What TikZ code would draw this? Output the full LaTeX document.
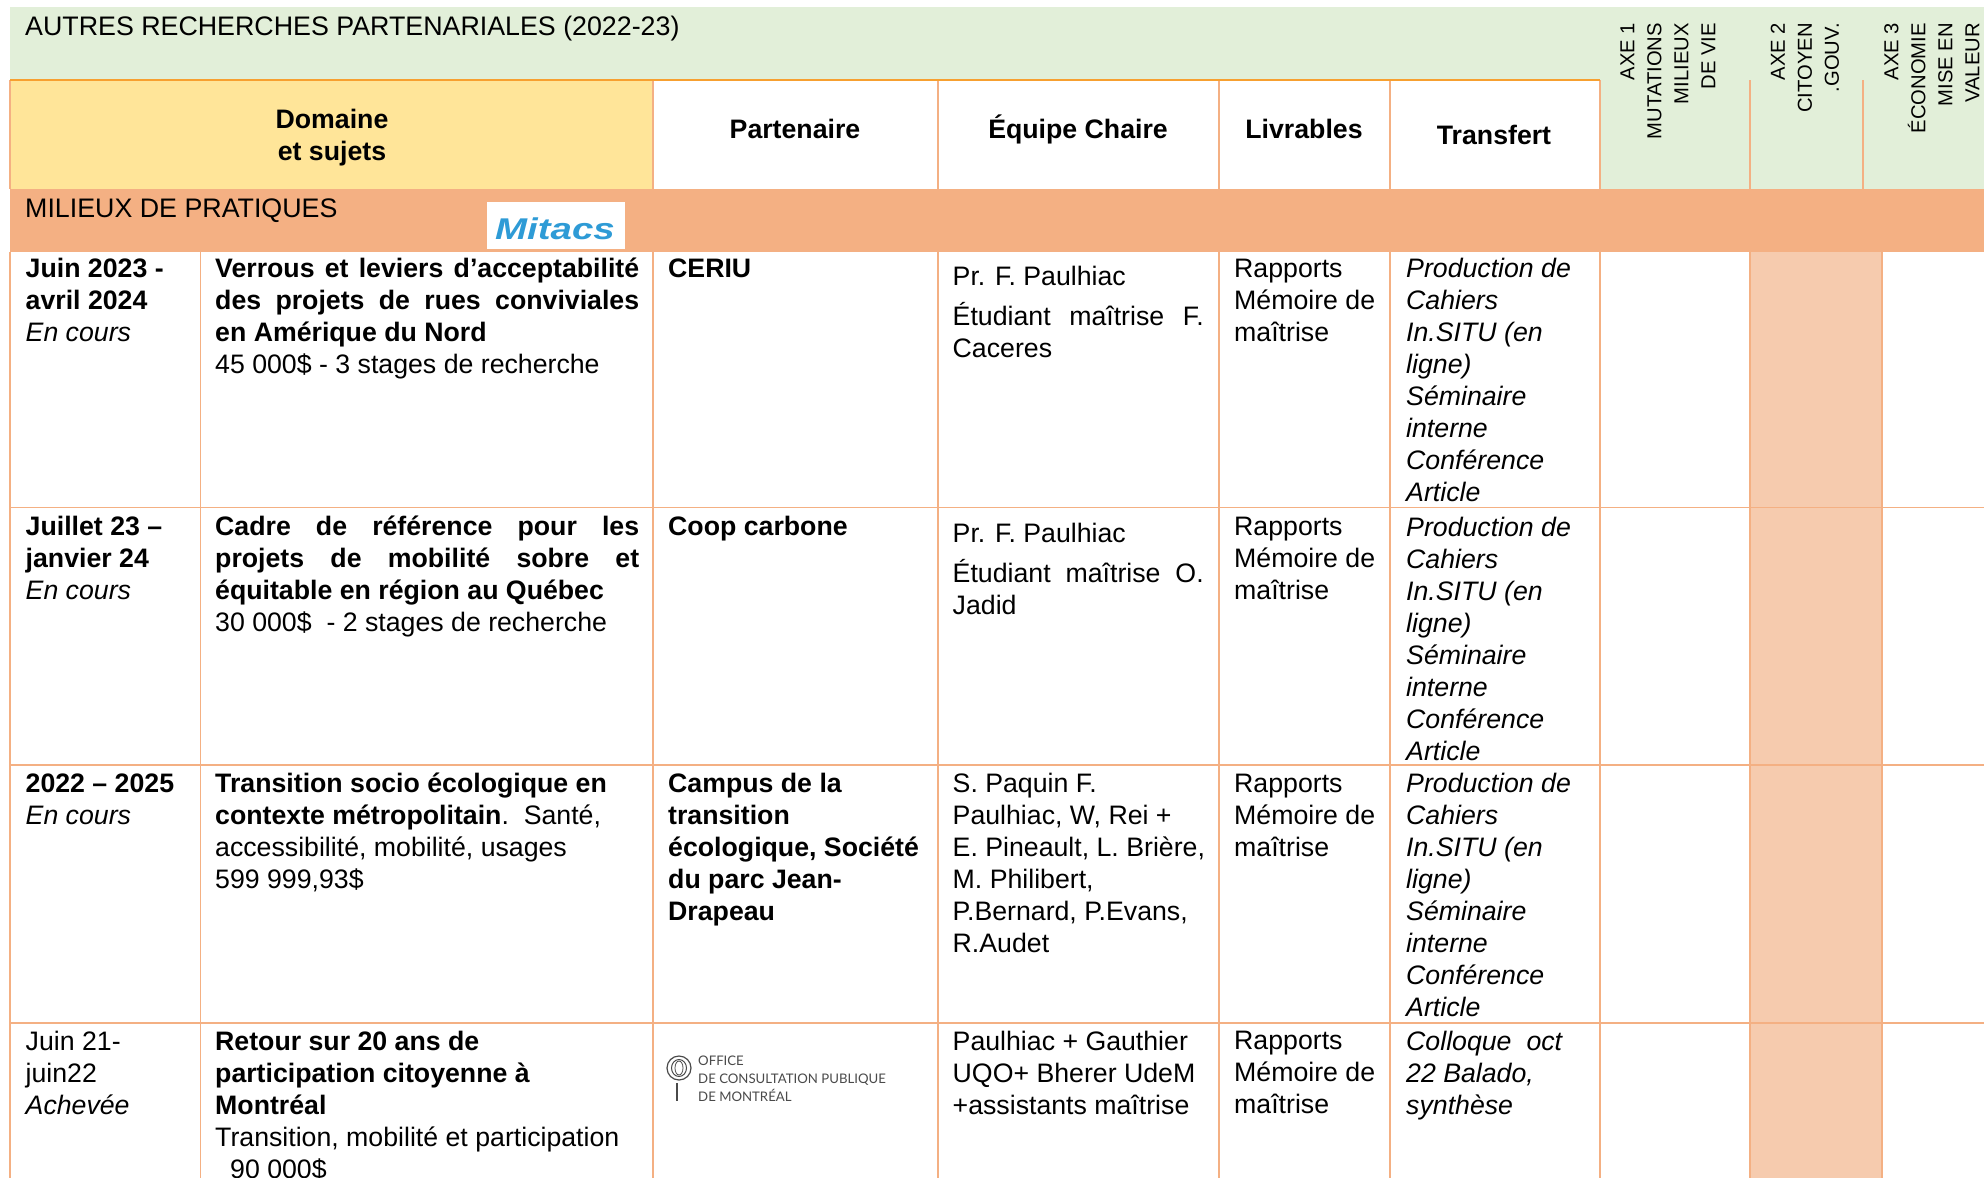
\documentclass[tikz,border=0pt]{standalone}
\usepackage{fontspec}
\setmainfont{Liberation Sans}
\newfontfamily\lato{Lato}
\definecolor{bgreen}{HTML}{E2EFD9}
\definecolor{byellow}{HTML}{FFE599}
\definecolor{bsalmon}{HTML}{F4B083}
\definecolor{bpink}{HTML}{F6CBAE}
\definecolor{btop}{HTML}{F7A030}
\definecolor{bmitacs}{HTML}{2E9BD6}
\definecolor{bocpm}{HTML}{4A4A4A}
\newcommand{\JL}[2]{\makebox[#1pt][s]{#2}}
\tikzset{
  cell/.style={anchor=north west,inner sep=0pt,align=left,text=black,
    font=\fontsize{26.7}{32}\selectfont,execute at begin node=\strut},
  head/.style={anchor=center,inner sep=0pt,align=center,text=black,
    font=\fontsize{26.7}{32.1}\selectfont\bfseries},
  band/.style={anchor=west,inner sep=0pt,text=black,font=\fontsize{26.8}{32}\selectfont},
  axis/.style={rotate=90,anchor=east,inner sep=0pt,align=right,text=black,
    font=\fontsize{20.2}{27}\selectfont},
  grid/.style={draw=bsalmon,line width=1.9pt},
  ocpm/.style={anchor=base west,inner sep=0pt,text=bocpm,font=\lato\fontsize{13.2}{16}\selectfont},
}
\begin{document}
\begin{tikzpicture}[x=1pt,y=-1pt]
\useasboundingbox (0,0) rectangle (1984,1178);
\fill[white] (0,0) rectangle (1984,1178);
% fills
\fill[bgreen] (10,7) rectangle (1984,189);
\fill[white] (653,80) rectangle (1600,189);
\fill[byellow] (10,80) rectangle (653,189);
\fill[bpink] (1750,252) rectangle (1882,1178);
\foreach \x in {653,938,1219,1390,1600,1750,1863} \draw[grid] (\x,80) -- (\x,189);
\draw[grid] (10,80) -- (10,189);
\fill[bsalmon] (10,189) rectangle (1984,252);
% grid lines
\draw[btop,line width=2pt] (10,80) -- (1600,80);
\foreach \x in {10,200.5,653,938,1219,1390,1600,1750,1882} \draw[grid] (\x,252) -- (\x,1178);
\foreach \y in {507.5,765,1023} \draw[grid] (10,\y) -- (1984,\y);
% band texts
\node[band] (title) at (25,28.5) {AUTRES RECHERCHES PARTENARIALES (2022-23)};
\node[band] (milieux) at (25,211) {MILIEUX DE PRATIQUES};
% headers
\node[head] (h1) at (332,137.5) {Domaine\\et sujets};
\node[head] (h2) at (795,129) {Partenaire};
\node[head] (h3) at (1078,129) {Équipe Chaire};
\node[head] (h4) at (1304,129) {Livrables};
\node[head] (h5) at (1494,135) {Transfert};
% axes
\node[axis] (a1) at (1668,23) {AXE 1\\MUTATIONS\\MILIEUX\\DE VIE};
\node[axis] (a2) at (1805,23) {AXE 2\\CITOYEN\\.GOUV.};
\node[axis] (a3) at (1932,23) {AXE 3\\ÉCONOMIE\\MISE EN\\VALEUR};
% Mitacs logo
\fill[white] (487,202) rectangle (625,249);
\node[inner sep=0pt,text=bmitacs,font=\fontsize{30}{30}\selectfont\bfseries\itshape] (mitacs) at (555,228.5) {\scalebox{1.28}[1]{Mitacs}};
% Row 1
\node[cell] (r1a) at (25.5,258) {\textbf{Juin 2023 -}\\\textbf{avril 2024}\\\textit{En cours}};
\node[cell] (r1b) at (215,258) {\textbf{\JL{424}{Verrous et leviers d’acceptabilité}}\\\textbf{\JL{424}{des projets de rues conviviales}}\\\textbf{en Amérique du Nord}\\45 000\$ - 3 stages de recherche};
\node[cell] (r1c) at (668,254.5) {\textbf{CERIU}};
\node[cell] (r1d) at (952.5,266) {Pr. F. Paulhiac\\[8pt]\JL{251}{Étudiant maîtrise F.}\\Caceres};
\node[cell] (r1e) at (1234,259) {Rapports\\Mémoire de\\maîtrise};
\node[cell] (r1f) at (1406,257.5) {\itshape Production de\\\itshape Cahiers\\\itshape In.SITU (en\\\itshape ligne)\\\itshape Séminaire\\\itshape interne\\\itshape Conférence\\\itshape Article};
% Row 2
\node[cell] (r2a) at (25.5,516) {\textbf{Juillet 23 –}\\\textbf{janvier 24}\\\textit{En cours}};
\node[cell] (r2b) at (215,516) {\textbf{\JL{424}{Cadre de référence pour les}}\\\textbf{\JL{424}{projets de mobilité sobre et}}\\\textbf{équitable en région au Québec}\\30 000\$~~- 2 stages de recherche};
\node[cell] (r2c) at (668,512.5) {\textbf{Coop carbone}};
\node[cell] (r2d) at (952.5,523) {Pr. F. Paulhiac\\[8pt]\JL{251}{Étudiant maîtrise O.}\\Jadid};
\node[cell] (r2e) at (1234,517) {Rapports\\Mémoire de\\maîtrise};
\node[cell] (r2f) at (1406,516.5) {\itshape Production de\\\itshape Cahiers\\\itshape In.SITU (en\\\itshape ligne)\\\itshape Séminaire\\\itshape interne\\\itshape Conférence\\\itshape Article};
% Row 3
\node[cell] (r3a) at (25.5,774) {\textbf{2022 – 2025}\\\textit{En cours}};
\node[cell] (r3b) at (215,773) {\textbf{Transition socio écologique en}\\\textbf{contexte métropolitain}.~~Santé,\\accessibilité, mobilité, usages\\599 999,93\$};
\node[cell] (r3c) at (668,773) {\textbf{Campus de la}\\\textbf{transition}\\\textbf{écologique, Société}\\\textbf{du parc Jean-}\\\textbf{Drapeau}};
\node[cell] (r3d) at (952.5,773) {S. Paquin F.\\Paulhiac, W, Rei +\\E. Pineault, L. Brière,\\M. Philibert,\\P.Bernard, P.Evans,\\R.Audet};
\node[cell] (r3e) at (1234,774) {Rapports\\Mémoire de\\maîtrise};
\node[cell] (r3f) at (1406,773) {\itshape Production de\\\itshape Cahiers\\\itshape In.SITU (en\\\itshape ligne)\\\itshape Séminaire\\\itshape interne\\\itshape Conférence\\\itshape Article};
% Row 4
\node[cell] (r4a) at (25.5,1031) {Juin 21-\\juin22\\\textit{Achevée}};
\node[cell] (r4b) at (215,1031) {\textbf{Retour sur 20 ans de}\\\textbf{participation citoyenne à}\\\textbf{Montréal}\\Transition, mobilité et participation\\\hspace*{15pt}90 000\$};
\node[cell] (r4d) at (952.5,1031) {Paulhiac + Gauthier\\UQO+ Bherer UdeM\\+assistants maîtrise};
\node[cell] (r4e) at (1234,1031) {Rapports\\Mémoire de\\maîtrise};
\node[cell] (r4f) at (1406,1031) {\itshape \JL{156}{Colloque oct}\\\itshape 22 Balado,\\\itshape synthèse};
% OCPM logo
\draw[bocpm,line width=1.2pt] (679,1068) circle (12);
\draw[bocpm,line width=1pt] (679,1068) ellipse (7.5 and 8.5);
\draw[bocpm,line width=0.8pt] (679,1068) ellipse (4 and 7);
\draw[bocpm,line width=1.6pt] (677,1083) -- (677,1101);
\node[ocpm] (o1) at (698,1065) {OFFICE};
\node[ocpm] (o2) at (698,1083) {DE CONSULTATION PUBLIQUE};
\node[ocpm] (o3) at (698,1101) {DE MONTRÉAL};
\end{tikzpicture}
\end{document}
